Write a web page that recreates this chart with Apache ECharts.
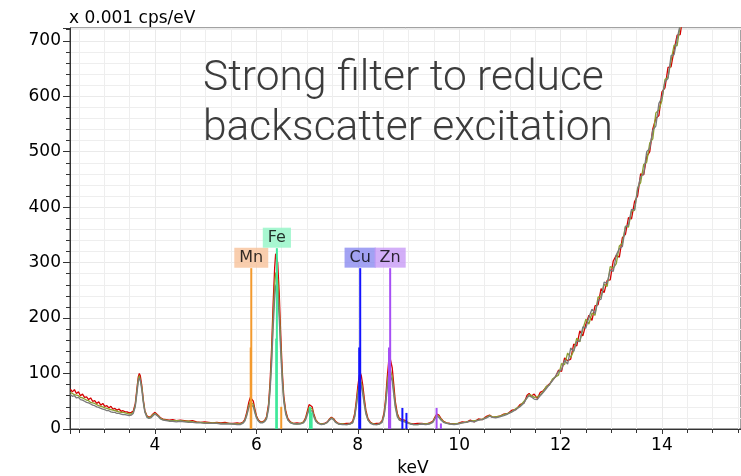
<!DOCTYPE html>
<html><head><meta charset="utf-8">
<script src="https://cdn.jsdelivr.net/npm/echarts@6/dist/echarts.min.js"></script>
<style>html,body{margin:0;padding:0;background:#fff}#c{width:741px;height:476px}</style>
</head><body><div id="c"></div>
<script>
// Energies (keV) shared by the three spectra
const energy = [
2.33,2.37,2.41,2.45,2.49,2.53,2.57,2.61,2.65,2.69,2.73,2.77,2.81,2.85,2.89,2.93,2.97,3.01,3.05,3.09,3.13,3.17,3.21,3.25,3.29,3.33,3.37,3.41,3.45,3.49,3.53,3.57,3.61,3.64,3.67,3.69,3.71,3.74,3.77,3.80,3.84,3.88,3.92,3.96,4.00,4.03,4.07,4.11,4.16,4.22,4.28,4.35,4.42,4.50,4.58,4.66,4.74,4.82,4.90,4.98,5.06,5.14,5.22,5.30,5.38,5.46,5.54,5.62,5.68,5.73,5.77,5.81,5.85,5.88,5.91,5.94,5.97,6.00,6.04,6.08,6.12,6.16,6.20,6.24,6.27,6.30,6.33,6.36,6.38,6.40,6.42,6.45,6.48,6.51,6.54,6.58,6.62,6.67,6.73,6.80,6.87,6.93,6.97,7.01,7.04,7.07,7.10,7.13,7.17,7.22,7.28,7.34,7.40,7.44,7.48,7.52,7.56,7.62,7.70,7.78,7.85,7.90,7.94,7.97,8.00,8.03,8.05,8.07,8.10,8.13,8.16,8.20,8.25,8.31,8.37,8.43,8.48,8.52,8.55,8.58,8.61,8.63,8.65,8.68,8.71,8.74,8.78,8.82,8.87,8.92,8.97,9.03,9.10,9.18,9.26,9.34,9.42,9.48,9.52,9.56,9.60,9.64,9.69,9.75,9.82,9.90,9.98,10.06,10.14,10.22,10.30,10.38,10.46,10.54,10.60,10.66,10.72,10.80,10.88,10.96,11.04,11.12,11.20,11.28,11.34,11.38,11.42,11.48,11.54,11.60,11.66,11.72,11.78,11.84,11.90,11.96,12.02,12.08,12.14,12.20,12.26,12.32,12.38,12.44,12.50,12.56,12.62,12.68,12.74,12.80,12.86,12.92,12.98,13.04,13.10,13.16,13.22,13.28,13.34,13.40,13.46,13.52,13.58,13.64,13.70,13.76,13.82,13.88,13.94,14.00,14.06,14.12,14.18,14.24,14.30,14.36,14.42,14.48,14.54
];
// Counts (x 0.001 cps/eV)
const red = [
72,67,71,64,67,60,63,57,58,53,56,50,51,46,49,43,46,41,42,38,41,36,37,34,36,32,33,31,31,29,30,32,45,70,94,100,96,78,52,33,24,21,23,27,30,29,24,20,18,17,16,17,15,16,15,14,15,13,12,13,12,11,12,11,12,10,10,11,10,12,17,30,48,57,58,50,36,24,16,13,13,15,22,45,85,145,225,290,316,318,300,245,170,105,60,32,19,13,10,11,10,13,20,34,44,47,40,28,17,11,9,10,13,18,21,19,14,10,9,10,10,14,28,50,76,96,101,96,78,54,34,19,12,9,10,10,15,30,55,92,122,131,128,110,80,50,28,19,17,16,13,10,9,10,10,9,11,14,21,27,25,19,14,11,10,9,10,13,12,16,13,18,17,23,25,21,22,23,27,28,34,35,44,47,61,64,59,63,55,66,69,76,81,88,94,106,104,128,123,126,153,150,177,168,189,205,196,222,224,253,246,268,269,303,313,310,345,351,381,379,410,420,460,458,491,500,541,560,565,608,615,652,653,683,710,711,748,760,796
];
const olive = [
66,64,62,61,60,57,56,54,52,51,48,47,46,44,42,41,40,38,37,36,35,34,33,32,31,30,30,29,28,27,27,30,42,66,90,96,93,75,50,32,23,20,22,26,28,28,23,19,17,16,15,15,15,15,14,14,13,12,12,11,11,11,11,10,10,10,9,9,9,11,15,26,42,49,50,44,32,22,15,12,12,14,20,40,75,128,200,258,282,285,270,220,152,95,54,29,17,12,10,9,10,12,18,30,39,42,36,25,16,10,9,9,12,17,20,18,13,9,9,8,9,12,24,44,67,84,88,84,68,47,30,17,11,9,8,9,13,26,48,80,104,112,110,94,68,43,25,17,15,14,12,10,8,8,9,9,10,13,19,25,23,18,13,11,9,9,10,11,13,14,15,16,18,21,24,22,22,23,26,28,31,37,41,50,56,62,61,57,58,61,68,77,79,90,94,97,118,116,137,129,141,164,157,180,198,189,209,205,238,238,261,257,293,290,298,330,335,366,364,393,394,435,444,477,481,516,523,570,575,592,630,634,664,692,691,727,737,775,785
];
const gray = [
62,59,60,56,57,53,52,50,48,47,45,43,42,40,39,37,36,35,33,33,31,30,30,28,28,27,26,26,25,24,25,28,40,62,86,92,88,70,47,30,21,19,20,24,27,26,22,18,16,15,14,14,13,14,13,12,12,11,11,10,10,10,10,9,9,9,9,8,8,10,14,24,38,45,46,40,29,20,14,11,11,13,18,36,68,116,180,235,258,262,248,200,138,86,49,26,16,11,9,9,9,11,16,27,35,38,32,23,14,10,8,9,12,16,19,17,12,9,8,8,9,11,22,40,60,77,82,78,62,43,27,16,10,8,8,9,12,24,44,72,95,102,100,86,62,39,22,16,14,13,11,9,8,8,9,8,9,12,18,23,21,16,12,10,9,8,9,11,12,14,13,16,17,20,23,21,20,22,24,27,31,35,40,47,57,60,58,54,53,60,66,73,80,87,95,104,107,124,117,146,140,158,158,184,182,202,216,208,232,234,265,263,287,284,314,325,329,364,368,396,395,431,455,460,500,506,539,546,587,597,626,632,673,675,704,729,735,767,782
];

// Element markers
const elementNames = ['Mn', 'Fe', 'Cu', 'Zn'];
const elementLabelEnergy = [5.899, 6.404, 8.048, 8.639];
const elementLabelHeight = [290, 326, 290, 290];
const elementLineEnergy = [
  [5.899, 5.888, 6.490],
  [6.404, 6.391, 7.058, 7.090],
  [8.048, 8.028, 8.880, 8.960],
  [8.639, 8.616, 9.555, 9.640]
];
const elementLineHeight = [
  [290, 147, 40],
  [326, 163, 40, 30],
  [290, 147, 38, 29],
  [290, 147, 38, 10]
];

// styles
const elementLineColors = ['#f39a2e', '#3ee89a', '#1414ff', '#a64ff5'];
const elementLabelColors = ['#f8c29a', '#92f5c6', '#8b8bf0', '#c89bf6'];
const traceColors = ['#d40000', '#8ca030', '#7a7a7a'];

const chart = echarts.init(document.getElementById('c'), null, {renderer: 'canvas'});
const axisFont = 'DejaVu Sans';

const series = [];
[red, olive, gray].forEach((vals, k) => {
  series.push({
    type: 'line', symbol: 'none', silent: true, animation: false, z: 2,
    data: energy.map((e, i) => [e, vals[i]]),
    lineStyle: {color: traceColors[k], width: 1.3}
  });
});
elementLineEnergy.forEach((arr, k) => {
  arr.forEach((e, j) => {
    series.push({
      type: 'line', symbol: 'none', silent: true, animation: false, z: 3,
      data: [[e, 0], [e, elementLineHeight[k][j]]],
      lineStyle: {color: elementLineColors[k], width: 2}
    });
  });
});
series.push({
  type: 'scatter', symbolSize: 1, silent: true, animation: false, z: 4,
  itemStyle: {color: 'rgba(0,0,0,0)'},
  data: elementNames.map((n, k) => ({
    value: [elementLabelEnergy[k], elementLabelHeight[k]],
    label: {
      show: true, position: 'top', distance: 0, formatter: n,
      backgroundColor: elementLabelColors[k], padding: [2, 5, 1, 5],
      color: '#000', fontFamily: axisFont, fontSize: 16, lineHeight: 17
    }
  }))
});

chart.setOption({
  animation: false,
  backgroundColor: '#fff',
  grid: {left: 70, right: 0, top: 28, bottom: 47, show: true, borderColor: '#444', borderWidth: 1},
  xAxis: {
    type: 'value', min: 2.323, max: 15.56, splitNumber: 7,
    axisLine: {show: true, lineStyle: {color: '#333'}},
    axisTick: {show: true, length: 5, lineStyle: {color: '#333'}},
    minorTick: {show: true, splitNumber: 4, length: 4, lineStyle: {color: '#333'}},
    splitLine: {show: true, lineStyle: {color: '#eaeaea'}},
    minorSplitLine: {show: true, lineStyle: {color: '#eeeeee'}},
    axisLabel: {showMinLabel: false, showMaxLabel: false, margin: 8, color: '#000', fontFamily: axisFont, fontSize: 17}
  },
  yAxis: {
    type: 'value', min: 0, max: 723, splitNumber: 7,
    axisLine: {show: true, lineStyle: {color: '#333'}},
    axisTick: {show: true, length: 7, lineStyle: {color: '#333'}},
    minorTick: {show: true, splitNumber: 5, length: 4, lineStyle: {color: '#333'}},
    splitLine: {show: true, lineStyle: {color: '#eaeaea'}},
    minorSplitLine: {show: true, lineStyle: {color: '#eeeeee'}},
    axisLabel: {showMaxLabel: false, margin: 9, color: '#000', fontFamily: axisFont, fontSize: 17}
  },
  graphic: [
    {type: 'text', x: 69, y: 19, silent: true, style: {text: 'x 0.001 cps/eV', fill: '#000', font: '17px "DejaVu Sans"', verticalAlign: 'middle', align: 'left'}},
    {type: 'text', x: 413, y: 469, silent: true, style: {text: 'keV', fill: '#000', font: '17px "DejaVu Sans"', verticalAlign: 'middle', align: 'center'}},
    {type: 'text', x: 203, y: 79, silent: true, z: 10, style: {text: 'Strong filter to reduce', fill: '#3c3c3c', font: '300 42.5px Roboto', verticalAlign: 'middle', align: 'left'}},
    {type: 'text', x: 203, y: 129, silent: true, z: 10, style: {text: 'backscatter excitation', fill: '#3c3c3c', font: '300 42.5px Roboto', verticalAlign: 'middle', align: 'left'}}
  ],
  series: series
});
</script>
</body></html>
